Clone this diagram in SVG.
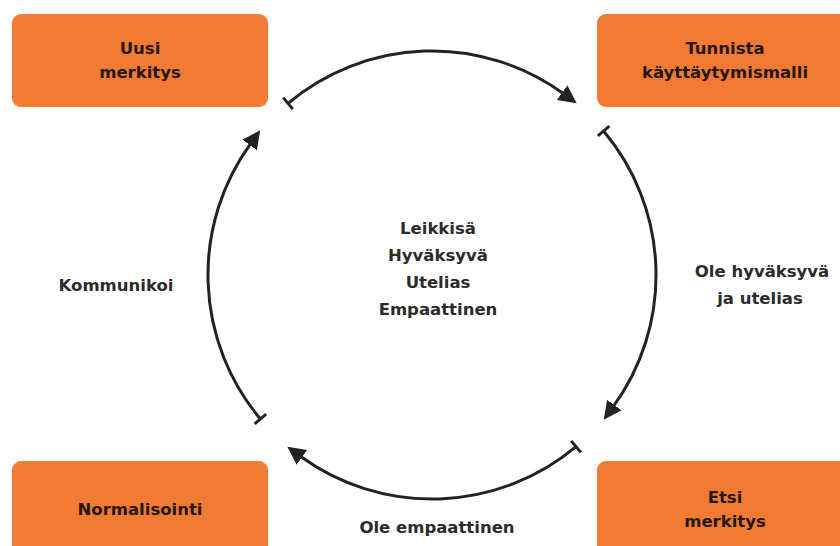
<svg xmlns="http://www.w3.org/2000/svg" width="840" height="546" viewBox="0 0 840 546">
<style>
.box{fill:#F27B34;}
.bt{font-family:"DejaVu Sans","Liberation Sans",sans-serif;font-weight:bold;font-size:16.5px;fill:#24170e;text-anchor:middle;}
.lt{font-family:"DejaVu Sans","Liberation Sans",sans-serif;font-weight:bold;font-size:16.5px;fill:#2b2b2b;text-anchor:middle;}
.arc{fill:none;stroke:#222222;stroke-width:3;marker-start:url(#bar);marker-end:url(#head);}
</style>
<defs>
<marker id="head" viewBox="0 0 20 20" refX="2" refY="10" markerWidth="20" markerHeight="20" markerUnits="userSpaceOnUse" orient="auto">
<path d="M0,1 L18,10 L0,19 z" fill="#222222"/>
</marker>
<marker id="bar" viewBox="-3 -9 6 18" refX="0" refY="0" markerWidth="6" markerHeight="18" markerUnits="userSpaceOnUse" orient="auto">
<path d="M0,-7.5 L0,7.5" stroke="#222222" stroke-width="3"/>
</marker>
</defs>
<rect width="840" height="546" fill="#ffffff"/>
<g id="connectors">
<path class="arc" d="M288.0,103.4 A224,224 0 0 1 563.7,93.8"/>
<path class="arc" d="M603.6,131.0 A224,224 0 0 1 613.2,406.7"/>
<path class="arc" d="M576.0,446.6 A224,224 0 0 1 300.3,456.2"/>
<path class="arc" d="M260.4,419.0 A224,224 0 0 1 250.8,143.3"/>
</g>
<g id="uusi-merkitys">
<rect class="box" x="12" y="14" width="256" height="93" rx="9"/>
<text class="bt" x="140" y="54">Uusi</text>
<text class="bt" x="140" y="78">merkitys</text>
</g>
<g id="tunnista">
<rect class="box" x="597" y="14" width="256" height="93" rx="9"/>
<text class="bt" x="725" y="54">Tunnista</text>
<text class="bt" x="725" y="78">käyttäytymismalli</text>
</g>
<g id="normalisointi">
<rect class="box" x="12" y="461" width="256" height="93" rx="9"/>
<text class="bt" x="140" y="515">Normalisointi</text>
</g>
<g id="etsi-merkitys">
<rect class="box" x="597" y="461" width="256" height="93" rx="9"/>
<text class="bt" x="725" y="503">Etsi</text>
<text class="bt" x="725" y="527">merkitys</text>
</g>
<g id="center">
<text class="lt" x="438" y="234">Leikkisä</text>
<text class="lt" x="438" y="261">Hyväksyvä</text>
<text class="lt" x="438" y="288">Utelias</text>
<text class="lt" x="438" y="315">Empaattinen</text>
</g>
<g id="labels">
<text class="lt" x="116" y="291">Kommunikoi</text>
<text class="lt" x="762" y="277">Ole hyväksyvä</text>
<text class="lt" x="760" y="304">ja utelias</text>
<text class="lt" x="437" y="533">Ole empaattinen</text>
</g>
</svg>
